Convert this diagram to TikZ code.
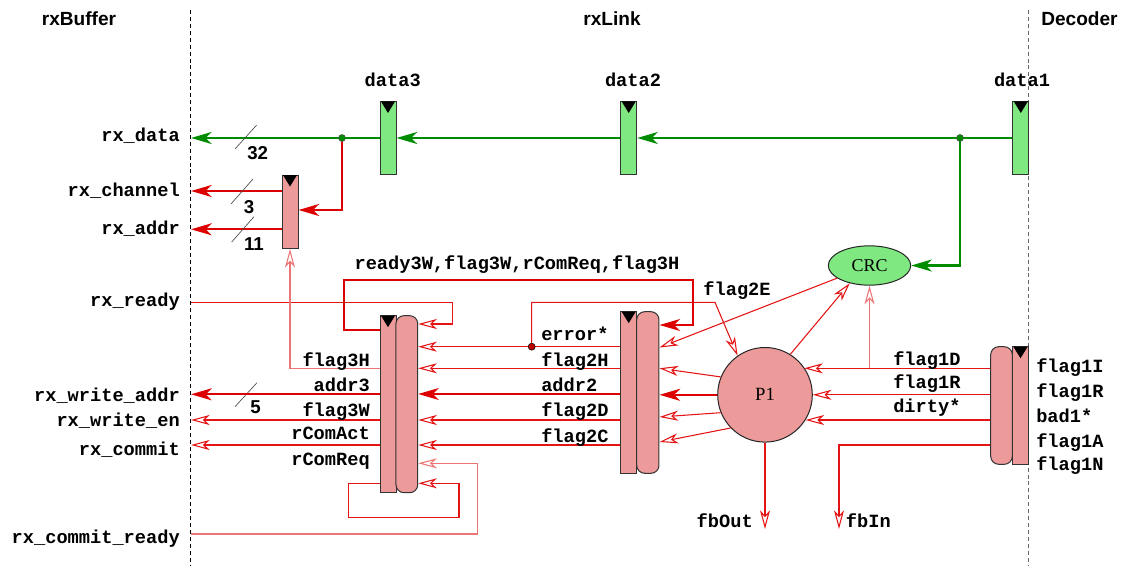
\documentclass[tikz,border=0pt]{standalone}
\usepackage{fontspec}
\setmainfont{Liberation Serif}
\setsansfont{Liberation Sans}
\newfontfamily\monof{Liberation Mono}
\usetikzlibrary{arrows.meta,shapes.geometric,calc}
\definecolor{gfill}{RGB}{128,232,128}
\definecolor{gline}{RGB}{0,140,0}
\definecolor{pfill}{RGB}{236,154,154}
\definecolor{bred}{RGB}{220,0,0}
\definecolor{sred}{RGB}{228,20,20}
\definecolor{lred}{RGB}{236,118,118}
\newcommand\clk[1]{\fill ($(#1.north west)+(1.5,0.5)$) -- ($(#1.north east)+(-1.5,0.5)$) -- ($(#1.north)+(0,12)$) -- cycle;}
\begin{document}
\begin{tikzpicture}[x=0.75pt,y=-0.75pt,
 tofill/.style={-{Stealth[length=15.5pt,width=9pt,inset=4.5pt]}},
 toopen/.style={-{Stealth[open,length=14pt,width=7.5pt,inset=4pt]}},
 reg/.style={draw=black!80,line width=0.75pt,inner sep=0pt,minimum width=12pt},
 greg/.style={reg,fill=gfill},
 preg/.style={reg,fill=pfill},
 rreg/.style={preg,rounded corners=6pt},
 wire/.style={line width=0.8pt,draw=sred,toopen},
 lwire/.style={line width=0.8pt,draw=lred,toopen},
 bus/.style={line width=1.7pt,draw=bred,tofill},
 gbus/.style={line width=1.7pt,draw=gline,tofill},
 slash/.style={line width=0.5pt,draw=black!70},
 lab/.style={font=\monof\bfseries\fontsize{14}{16}\selectfont,inner sep=0pt},
 hdr/.style={font=\sffamily\bfseries\fontsize{14.3}{16}\selectfont,inner sep=0pt},
 num/.style={font=\sffamily\bfseries\fontsize{14}{16}\selectfont,inner sep=0pt},
 divider/.style={line width=0.6pt,dash pattern=on 3pt off 2.2pt}]
\useasboundingbox (0,0) rectangle (1141,566);

% headers
\node[hdr,anchor=base] (hbuf) at (79,26) {rxBuffer};
\node[hdr,anchor=base] (hlink) at (612,26) {rxLink};
\node[hdr,anchor=base west] (hdec) at (1041,26) {Decoder};

% dividers
\coordinate (lt) at (190,10); \coordinate (lb) at (190,566);
\coordinate (rt) at (1028.5,10); \coordinate (rb) at (1028.5,566);
\draw[divider,black] (lt) -- (lb);
\draw[divider,black!60] (rt) -- (rb);

% green data registers
\node[greg,minimum height=54.75pt] (d3) at (388,138) {};
\node[greg,minimum height=54.75pt] (d2) at (628.7,138) {};
\node[greg,minimum height=54.75pt] (d1) at (1020.8,138) {};
\node[lab,anchor=base] (ld3) at (392.7,86.5) {data3};
\node[lab,anchor=base] (ld2) at (633,86.5) {data2};
\node[lab,anchor=base] (ld1) at (1022,86.5) {data1};

% pink registers
\node[preg,minimum height=55pt] (rr) at (290,211.7) {};
\node[preg,minimum height=132.75pt] (r3a) at (388,404.2) {};
\node[rreg,minimum width=16.3pt,minimum height=132.75pt] (r3b) at (406.85,404.2) {};
\node[preg,minimum height=121.2pt] (r2a) at (628.7,392.5) {};
\node[rreg,minimum width=16.7pt,minimum height=121.2pt] (r2b) at (647.85,392.5) {};
\node[rreg,minimum width=16.2pt,minimum height=88.2pt] (r1b) at (1001.5,405.5) {};
\node[preg,minimum width=12.3pt,minimum height=88.2pt] (r1a) at (1020.5,405.5) {};
\clk{d3} \clk{d2} \clk{d1} \clk{rr} \clk{r3a} \clk{r2a} \clk{r1a}

% P1 and CRC
\node[circle,draw=black!85,line width=0.75pt,fill=pfill,minimum size=70.95pt,inner sep=0pt,font=\fontsize{14}{16}\selectfont] (p1) at (765,394.8) {P1};
\node[ellipse,draw=black!85,line width=0.75pt,fill=gfill,minimum width=61.8pt,minimum height=29.5pt,inner sep=0pt,font=\fontsize{13.5}{15}\selectfont] (crc) at (869.5,265.5) {CRC};

% port labels (rxBuffer side)
\node[lab,anchor=base east] (prdata) at (180,141.5) {rx\_data};
\node[lab,anchor=base east] (prch) at (180,197) {rx\_channel};
\node[lab,anchor=base east] (pradr) at (180,235) {rx\_addr};
\node[lab,anchor=base east] (prrdy) at (180,306.5) {rx\_ready};
\node[lab,anchor=base east] (prwa) at (180,401) {rx\_write\_addr};
\node[lab,anchor=base east] (prwe) at (180,426.5) {rx\_write\_en};
\node[lab,anchor=base east] (prcm) at (180,455) {rx\_commit};
\node[lab,anchor=base east] (prcr) at (180,543) {rx\_commit\_ready};

% green data path
\coordinate (pdata) at (191,138);
\coordinate (j1) at (342,138);
\coordinate (j2) at (960,138);
\draw[gbus] (d1.west) -- (d2.east);
\draw[gbus] (d2.west) -- (d3.east);
\draw[gbus] (d3.west) -- (pdata);
\draw[gbus] (j2) |- (crc.east);

% channel / addr register
\coordinate (pch) at (191,191);
\coordinate (padr) at (191,229.3);
\draw[bus] (j1) |- (rr.east |- 0,210);
\draw[bus] (rr.west |- 0,191) -- (pch);
\draw[bus] (rr.west |- 0,229.3) -- (padr);
\filldraw[fill=gline,draw=black!70,line width=0.4pt] (j1) circle (3.5);
\filldraw[fill=gline,draw=black!70,line width=0.4pt] (j2) circle (3.5);

% bus widths
\draw[slash] (235,149) -- (256.7,125);
\draw[slash] (231,204) -- (253,179);
\draw[slash] (231.7,242) -- (254,216.7);
\draw[slash] (235,406.7) -- (257,382.7);
\node[num,anchor=base] (n32) at (257.7,160) {32};
\node[num,anchor=base] (n3) at (249,213.3) {3};
\node[num,anchor=base] (n11) at (254,250.7) {11};
\node[num,anchor=base] (n5) at (255.5,413.3) {5};

% register 3 inputs
\coordinate (prdy) at (191,302.3);
\draw[wire] (prdy) -| (452.7,324) -- (r3b.east |- 0,324);
\coordinate (e2) at (531.7,346.7);
\draw[wire] (r2a.west |- 0,346.7) -- (r3b.east |- 0,346.7);
\draw[wire] (e2) |- (715,302.3) -- (p1.125);
\filldraw[fill=bred!85!black,draw=black,line width=0.4pt] (e2) circle (3.5);
\draw[wire] (r2a.west |- 0,368.3) -- (r3b.east |- 0,368.3);
\draw[bus] (r2a.west |- 0,394) -- (r3b.east |- 0,394);
\draw[wire] (r2a.west |- 0,420) -- (r3b.east |- 0,420);
\draw[wire] (r2a.west |- 0,445) -- (r3b.east |- 0,445);
\coordinate (pcr) at (191,534);
\draw[lwire] (pcr) -| (477.7,463.3) -- (r3b.east |- 0,463.3);
\draw[wire] (r3a.west |- 0,483.3) -| (348.3,517.3) -| (459,483.3) -- (r3b.east |- 0,483.3);

% register 3 outputs
\draw[lwire] (r3a.west |- 0,368.3) -| (rr.south);
\coordinate (pwa) at (191,394.3);
\coordinate (pwe) at (191,420);
\coordinate (pcm) at (191,445);
\draw[bus] (r3a.west |- 0,394.3) -- (pwa);
\draw[wire] (r3a.west |- 0,420) -- (pwe);
\draw[wire] (r3a.west |- 0,445) -- (pcm);

% feedback loop to register 2
\draw[bus] (r3a.west |- 0,330) -| (344,280) -| (692.7,325) -- (r2b.east |- 0,325);

% register 2 inputs
\draw[wire] (crc) -- (r2b.east |- 0,347.5);
\draw[wire] (p1.158) -- (r2b.east |- 0,368.3);
\draw[bus] (p1.west) -- (r2b.east |- p1.west);
\draw[wire] (p1.202) -- (r2b.east |- 0,417);
\draw[wire] (p1.224) -- (r2b.east |- 0,442);

% P1 / CRC
\draw[wire] (p1.58) -- (crc.222);
\coordinate (f1d) at (crc.south |- 0,368.3);
\draw[lwire] (f1d) -- (crc.south);

% register 1 outputs
\draw[wire] (r1b.west |- 0,368.3) -- (p1.35 |- 0,368.3);
\draw[wire] (r1b.west |- p1.east) -- (p1.east);
\draw[wire] (r1b.west |- 0,420) -- (p1.328 |- 0,420);
\coordinate (pfbin) at (839,529);
\coordinate (pfbout) at (765,529);
\draw[wire] (r1b.west |- 0,445) -| (pfbin);
\draw[wire] (p1.south) -- (pfbout);

% labels
\node[lab,anchor=base] (lrd) at (517,270) {ready3W,flag3W,rComReq,flag3H};
\node[lab,anchor=base] (l2e) at (737,296) {flag2E};

\node[lab,anchor=base east] (l3h) at (370,366.5) {flag3H};
\node[lab,anchor=base east] (l3a) at (370,391.7) {addr3};
\node[lab,anchor=base east] (l3w) at (370,416.7) {flag3W};
\node[lab,anchor=base east] (l3c) at (370,439.3) {rComAct};
\node[lab,anchor=base east] (l3r) at (370,465.5) {rComReq};

\node[lab,anchor=base west] (l2err) at (541,340) {error*};
\node[lab,anchor=base west] (l2h) at (541,366.5) {flag2H};
\node[lab,anchor=base west] (l2a) at (541,391.7) {addr2};
\node[lab,anchor=base west] (l2d) at (541,416.7) {flag2D};
\node[lab,anchor=base west] (l2c) at (541,442.5) {flag2C};

\node[lab,anchor=base west] (l1d) at (893,365.5) {flag1D};
\node[lab,anchor=base west] (l1r) at (893,388.5) {flag1R};
\node[lab,anchor=base west] (l1x) at (893,412.5) {dirty*};

\node[lab,anchor=base west] (r1i) at (1036,372.5) {flag1I};
\node[lab,anchor=base west] (r1r) at (1036,397.5) {flag1R};
\node[lab,anchor=base west] (r1b1) at (1036,422.5) {bad1*};
\node[lab,anchor=base west] (r1ta) at (1036,447.5) {flag1A};
\node[lab,anchor=base west] (r1n) at (1036,470) {flag1N};

\node[lab,anchor=base] (lfo) at (724.7,527) {fbOut};
\node[lab,anchor=base] (lfi) at (868.3,527) {fbIn};
\end{tikzpicture}
\end{document}
